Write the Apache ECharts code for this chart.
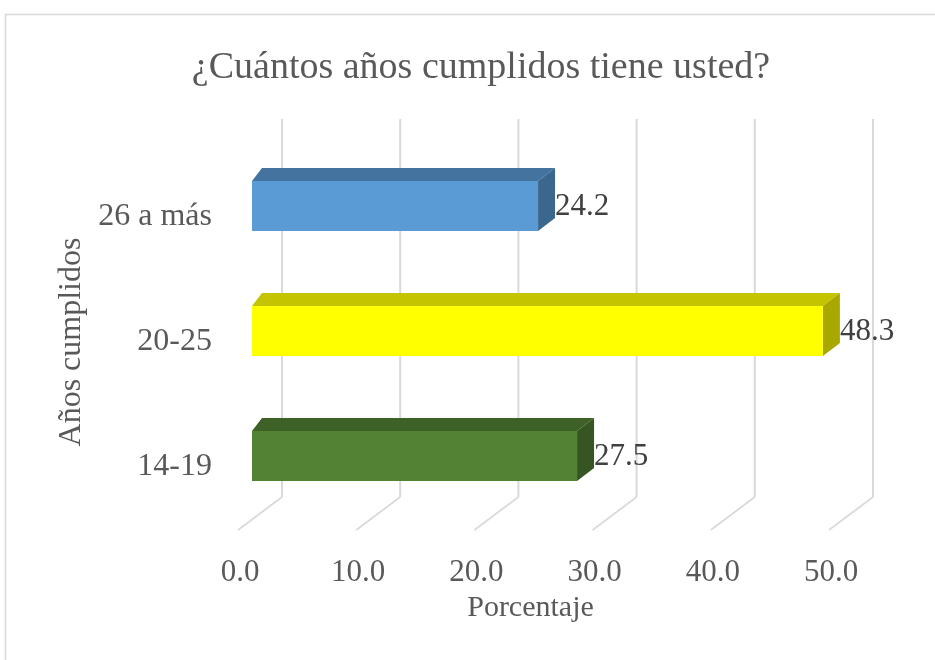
<!DOCTYPE html>
<html>
<head>
<meta charset="utf-8">
<script src="https://cdn.jsdelivr.net/npm/echarts@6/dist/echarts.min.js"></script>
<style>
  html, body { margin: 0; padding: 0; background: #fff; }
  #chart { width: 935px; height: 660px; }
</style>
</head>
<body>
<div id="chart"></div>
<script>
// datos del gráfico
var categories = ['14-19', '20-25', '26 a más'];
var values = [27.5, 48.3, 24.2];
var xTicks = [0, 10, 20, 30, 40, 50];

// colores de cada barra: frente, tapa, lado
var faces = [
    { front: '#548235', top: '#3E6127', side: '#375523' },
    { front: '#FFFF00', top: '#C4C400', side: '#A8A800' },
    { front: '#5B9BD5', top: '#44739F', side: '#3B668E' }
];
var serif = 'Liberation Serif, Times New Roman, serif';

// líneas de cuadrícula en 3D (pared de fondo + piso)
function renderGrid(params, api) {
    var cs = params.coordSys;
    var px = api.coord([api.value(0), 0])[0];
    var bx = px + 42;
    var top = cs.y - 35.5;
    var bot = cs.y + cs.height - 32.5;
    var st = { stroke: '#D9D9D9', lineWidth: 2 };
    return {
        type: 'group',
        children: [
            { type: 'line', shape: { x1: bx, y1: top, x2: bx, y2: bot }, style: st },
            { type: 'line', shape: { x1: bx, y1: bot, x2: px - 2, y2: bot + 33 }, style: { stroke: '#D9D9D9', lineWidth: 1.6 } }
        ]
    };
}

// barras en 3D
function renderBar(params, api) {
    var v = api.value(0);
    var idx = api.value(1);
    var start = api.coord([0, idx]);
    var end = api.coord([v, idx]);
    var x0 = start[0] + 12;
    var x1 = end[0] + 12;
    var yt = end[1] - 36;
    var yb = end[1] + 14;
    var c = faces[params.dataIndex];
    return {
        type: 'group',
        children: [
            { type: 'polygon', shape: { points: [[x0, yt], [x1, yt], [x1 + 17, yt - 13], [x0 + 10, yt - 13]] }, style: { fill: c.top } },
            { type: 'polygon', shape: { points: [[x1, yt], [x1 + 17, yt - 13], [x1 + 17, yb - 13], [x1, yb]] }, style: { fill: c.side } },
            { type: 'rect', shape: { x: x0, y: yt, width: x1 - x0, height: yb - yt }, style: { fill: c.front } },
            {
                type: 'text',
                style: {
                    text: v.toFixed(1), x: x1 + 17, y: (yt + yb) / 2 + 1,
                    align: 'left', verticalAlign: 'middle',
                    fontSize: 31, fontFamily: serif, fill: '#404040'
                }
            }
        ]
    };
}

var myChart = echarts.init(document.getElementById('chart'));

options = {
    backgroundColor: '#fff',
    animation: false,
    title: {
        text: '¿Cuántos años cumplidos tiene usted?',
        left: 476,
        textAlign: 'center',
        top: 44,
        textStyle: { fontFamily: serif, fontSize: 38, fontWeight: 'normal', color: '#595959' }
    },
    graphic: [{
        type: 'rect',
        shape: { x: 5.5, y: 14.5, width: 1000, height: 1000 },
        style: { fill: 'none', stroke: '#D9D9D9', lineWidth: 1.5 },
        z: -1
    }],
    grid: { left: 240, right: 104, top: 154.5, bottom: 130.5 },
    xAxis: {
        type: 'value',
        min: 0,
        max: 50,
        interval: 10,
        name: 'Porcentaje',
        nameLocation: 'middle',
        nameGap: 58,
        nameTextStyle: { fontFamily: serif, fontSize: 30, color: '#595959', padding: [0, 10, 0, 0] },
        axisLine: { show: false },
        axisTick: { show: false },
        splitLine: { show: false },
        axisLabel: {
            margin: 28,
            fontFamily: serif, fontSize: 31, color: '#595959',
            formatter: function(v) { return v.toFixed(1); }
        }
    },
    yAxis: {
        type: 'category',
        data: categories,
        name: 'Años cumplidos',
        nameLocation: 'middle',
        nameRotate: 90,
        nameGap: 152,
        nameTextStyle: { fontFamily: serif, fontSize: 32, color: '#595959' },
        axisLine: { show: false },
        axisTick: { show: false },
        splitLine: { show: false },
        axisLabel: { margin: 28, fontFamily: serif, fontSize: 32, color: '#595959' }
    },
    series: [{
        type: 'custom',
        renderItem: renderGrid,
        encode: { x: 0, y: 1 },
        data: xTicks.map(function(t) { return [t, 0]; }),
        silent: true,
        z: 1
    }, {
        type: 'custom',
        renderItem: renderBar,
        encode: { x: 0, y: 1 },
        data: values.map(function(v, i) { return [v, i]; }),
        z: 2
    }]
};
myChart.setOption(options);
</script>
</body>
</html>
